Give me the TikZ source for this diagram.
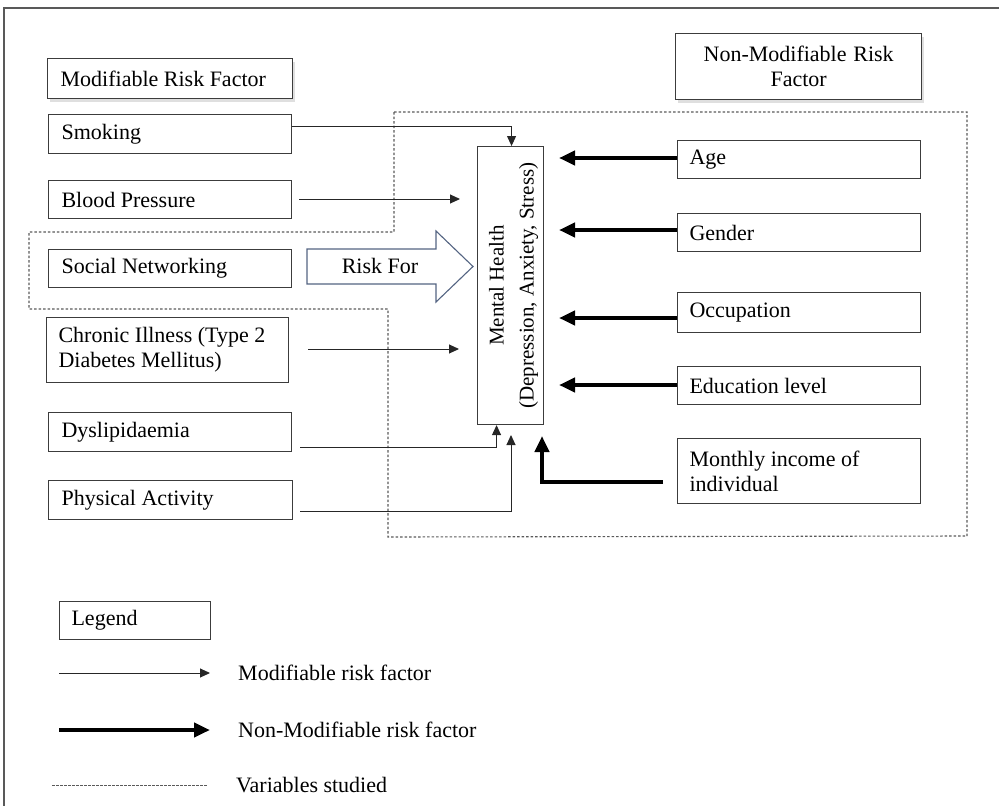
\documentclass[tikz,border=0pt]{standalone}
\usepackage{fontspec}
\setmainfont{Liberation Serif}
\usetikzlibrary{arrows.meta,shadows}
\definecolor{boxline}{RGB}{60,60,60}
\definecolor{riskblue}{RGB}{84,100,130}
\definecolor{dotgray}{RGB}{90,90,90}
\tikzset{
  normalspace/.style={execute at begin node={\spaceskip=0pt\xspaceskip=0pt}},
  rbox/.style n args={3}{draw=boxline, line width=1.1pt, inner sep=0pt,
    minimum width=#1, minimum height=#2, text width=#3, align=left, normalspace,
    anchor=north west, font=\fontsize{22}{25}\selectfont},
  tbox/.style n args={2}{draw=boxline, line width=1.3pt, inner sep=0pt,
    minimum width=#1, minimum height=#2, anchor=north west, normalspace,
    font=\fontsize{22}{25}\selectfont, fill=white,
    drop shadow={shadow xshift=2pt, shadow yshift=-3pt, opacity=0.25, fill=gray}},
  thinarr/.style={line width=1pt, draw=black!85, -{Triangle[length=10pt,width=9pt]}},
  thickarr/.style={line width=4pt, draw=black, -{Triangle[length=16pt,width=14pt]}},
  studied/.style={draw=dotgray, line width=1.1pt, dash pattern=on 2.5pt off 2pt},
  lgtext/.style={anchor=west, inner sep=0pt, font=\fontsize{22}{25}\selectfont},
}
\begin{document}
\begin{tikzpicture}[x=1pt,y=-1pt]
\useasboundingbox (0,0) rectangle (999,806);
% outer frame
\draw[draw=black!65, line width=1.5pt] (4,806) -- (4,8) -- (999,8);

% variables studied region
\draw[studied] (394,112) -- (967,112) -- (967,536) -- (388,537) -- (388,309)
  -- (29,309) -- (29,232) -- (394,232) -- cycle;

% title boxes
\node[tbox={245}{40}, align=left, text width=219] (mrf) at (47,58) {Modifiable Risk Factor};
\node[tbox={246}{66}, align=center, text width=230] (nmrf) at (675,33) {Non-Modifiable Risk\\Factor};

% left boxes
\node[rbox={243}{39}{217}] (smk) at (48,114) {Smoking};
\node[rbox={243}{38}{217}] (bp) at (48,180) {Blood Pressure};
\node[rbox={243}{38}{217}] (sn) at (48,249) {Social Networking};
\node[rbox={242}{65}{218}] (ci) at (46,317) {Chronic Illness (Type 2\\Diabetes Mellitus)};
\node[rbox={243}{39}{217}] (dys) at (48,412) {Dyslipidaemia};
\node[rbox={244}{39}{218}] (pa) at (48,480) {Physical Activity};

% right boxes
\node[rbox={243}{38}{219}] (age) at (677,140) {Age};
\node[rbox={243}{38}{219}] (gen) at (677,213) {Gender};
\node[rbox={243}{40}{219}] (occ) at (677,292) {Occupation};
\node[rbox={243}{38}{219}] (edu) at (677,366) {Education level};
\node[rbox={243}{65}{219}] (inc) at (677,438) {Monthly income of\\individual};

% central box
\node[draw=boxline, line width=1.1pt, minimum width=66, minimum height=278,
  inner sep=0pt, anchor=north west] (mh) at (477,146) {};
\node[rotate=90, align=center, inner sep=0pt, font=\fontsize{21}{30}\selectfont]
  (mhtext) at ([xshift=3pt]mh.center) {Mental Health\\(Depression, Anxiety, Stress)};

% Risk For block arrow
\draw[draw=riskblue, line width=1.1pt, fill=white] (307,249) -- (436,249) -- (436,231)
  -- (473,266.5) -- (436,302) -- (436,284) -- (307,284) -- cycle;
\node[inner sep=0pt, font=\fontsize{22}{25}\selectfont] (riskfor) at (380,266) {Risk For};

% tip coordinates
\coordinate (bpS) at (299,199);
\coordinate (bpT) at (460,199);
\coordinate (ciS) at (308,349);
\coordinate (ciT) at (459,349);
\coordinate (dysS) at (300,447);
\coordinate (paS) at (300,511);
\coordinate (paT) at (511,435);
\coordinate (incT) at (542,436);
\coordinate (ageT) at (559,158);
\coordinate (genT) at (559,230);
\coordinate (occT) at (559,318);
\coordinate (eduT) at (559,385);

% modifiable arrows
\draw[thinarr] ([yshift=-12pt]smk.north east) -| ([xshift=1pt]mh.north);
\draw[thinarr] (bpS) -- (bpT);
\draw[thinarr] (ciS) -- (ciT);
\draw[thinarr] (dysS) -| ([xshift=-14pt]mh.south);
\draw[thinarr] (paS) -| (paT);

% non-modifiable arrows
\draw[thickarr] (age.west |- ageT) -- (ageT);
\draw[thickarr] (gen.west |- genT) -- (genT);
\draw[thickarr] (occ.west |- occT) -- (occT);
\draw[thickarr] (edu.west |- eduT) -- (eduT);
\draw[thickarr] ([xshift=-14pt,yshift=-10.5pt]inc.west) -| (incT);

% legend
\node[draw=boxline, line width=1.1pt, inner sep=0pt, minimum width=151, minimum height=38,
  text width=127, align=left, normalspace, anchor=north west, font=\fontsize{22}{25}\selectfont]
  (legend) at (59,601) {Legend};
\coordinate (l1a) at (59,673); \coordinate (l1b) at (210,673);
\coordinate (l2a) at (59,730); \coordinate (l2b) at (210,730);
\coordinate (l3a) at (52,785); \coordinate (l3b) at (208,785);
\draw[thinarr] (l1a) -- (l1b);
\draw[thickarr] (l2a) -- (l2b);
\draw[draw=dotgray, line width=1pt, dash pattern=on 2.5pt off 1.5pt] (l3a) -- (l3b);
\node[lgtext] (lt1) at (238,673) {Modifiable risk factor};
\node[lgtext] (lt2) at (238,730) {Non-Modifiable risk factor};
\node[lgtext] (lt3) at (236,785) {Variables studied};
\end{tikzpicture}
\end{document}
